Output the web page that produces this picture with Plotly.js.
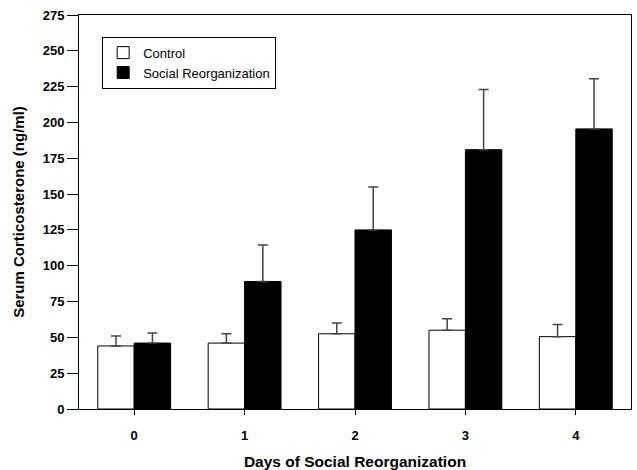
<!DOCTYPE html>
<html>
<head>
<meta charset="utf-8">
<script src="https://cdn.plot.ly/plotly-3.0.1.min.js"></script>
<style>html,body{margin:0;padding:0;background:#fff;}#chart{width:637px;height:470px;}</style>
</head>
<body>
<div id="chart"></div>
<script>
var days = ['0', '1', '2', '3', '4'];
var controlValues = [44, 46, 52.5, 55, 50.5];
var controlErrors = [7, 6.5, 7.5, 8, 8.5];
var socialValues = [46, 89, 125, 181, 195.5];
var socialErrors = [7, 25.5, 30, 42, 35];
var yTicks = [0, 25, 50, 75, 100, 125, 150, 175, 200, 225, 250, 275];

var font = {family: '"Liberation Sans", Arial, sans-serif', color: '#000'};

var traces = [
  {
    type: 'bar', name: 'Control', x: days, y: controlValues,
    marker: {color: '#fff', line: {color: '#000', width: 1}},
    error_y: {type: 'data', array: controlErrors, arrayminus: controlValues.map(function(){return 0;}), symmetric: false, color: '#444', thickness: 1.5, width: 5}
  },
  {
    type: 'bar', name: 'Social Reorganization', x: days, y: socialValues,
    marker: {color: '#000', line: {color: '#000', width: 1}},
    error_y: {type: 'data', array: socialErrors, arrayminus: socialValues.map(function(){return 0;}), symmetric: false, color: '#444', thickness: 1.5, width: 5}
  }
];

var layout = {
  width: 637, height: 470,
  margin: {l: 79, r: 6, t: 15, b: 61},
  paper_bgcolor: '#fff', plot_bgcolor: '#fff',
  barmode: 'group', bargap: 0.34, bargroupgap: 0,
  showlegend: true,
  legend: {
    x: 0.042, y: 0.945, xanchor: 'left', yanchor: 'top',
    bgcolor: '#fff', bordercolor: '#000', borderwidth: 1,
    font: {family: font.family, size: 13, color: '#000'},
    tracegroupgap: 0, traceorder: 'normal'
  },
  xaxis: {
    type: 'category', range: [-0.5, 4.5],
    showline: true, linecolor: '#000', linewidth: 1, mirror: true,
    ticks: 'outside', ticklen: 5, tickcolor: '#000',
    ticklabelstandoff: 9,
    showgrid: false, zeroline: false,
    tickfont: {family: font.family, size: 13, color: '#000', weight: 'bold'},
    title: {text: '<b>Days of Social Reorganization</b>', font: {family: font.family, size: 15.5, color: '#000'}, standoff: 14}
  },
  yaxis: {
    range: [0, 275], tickvals: yTicks, ticktext: yTicks.map(String),
    showline: true, linecolor: '#000', linewidth: 1, mirror: true,
    ticks: 'outside', ticklen: 11, tickcolor: '#000',
    showgrid: false, zeroline: false,
    tickfont: {family: font.family, size: 13, color: '#000', weight: 'bold'},
    title: {text: '<b>Serum Corticosterone (ng/ml)</b>', font: {family: font.family, size: 15, color: '#000'}, standoff: 14}
  }
};

Plotly.newPlot('chart', traces, layout, {displayModeBar: false, staticPlot: true});
</script>
</body>
</html>
